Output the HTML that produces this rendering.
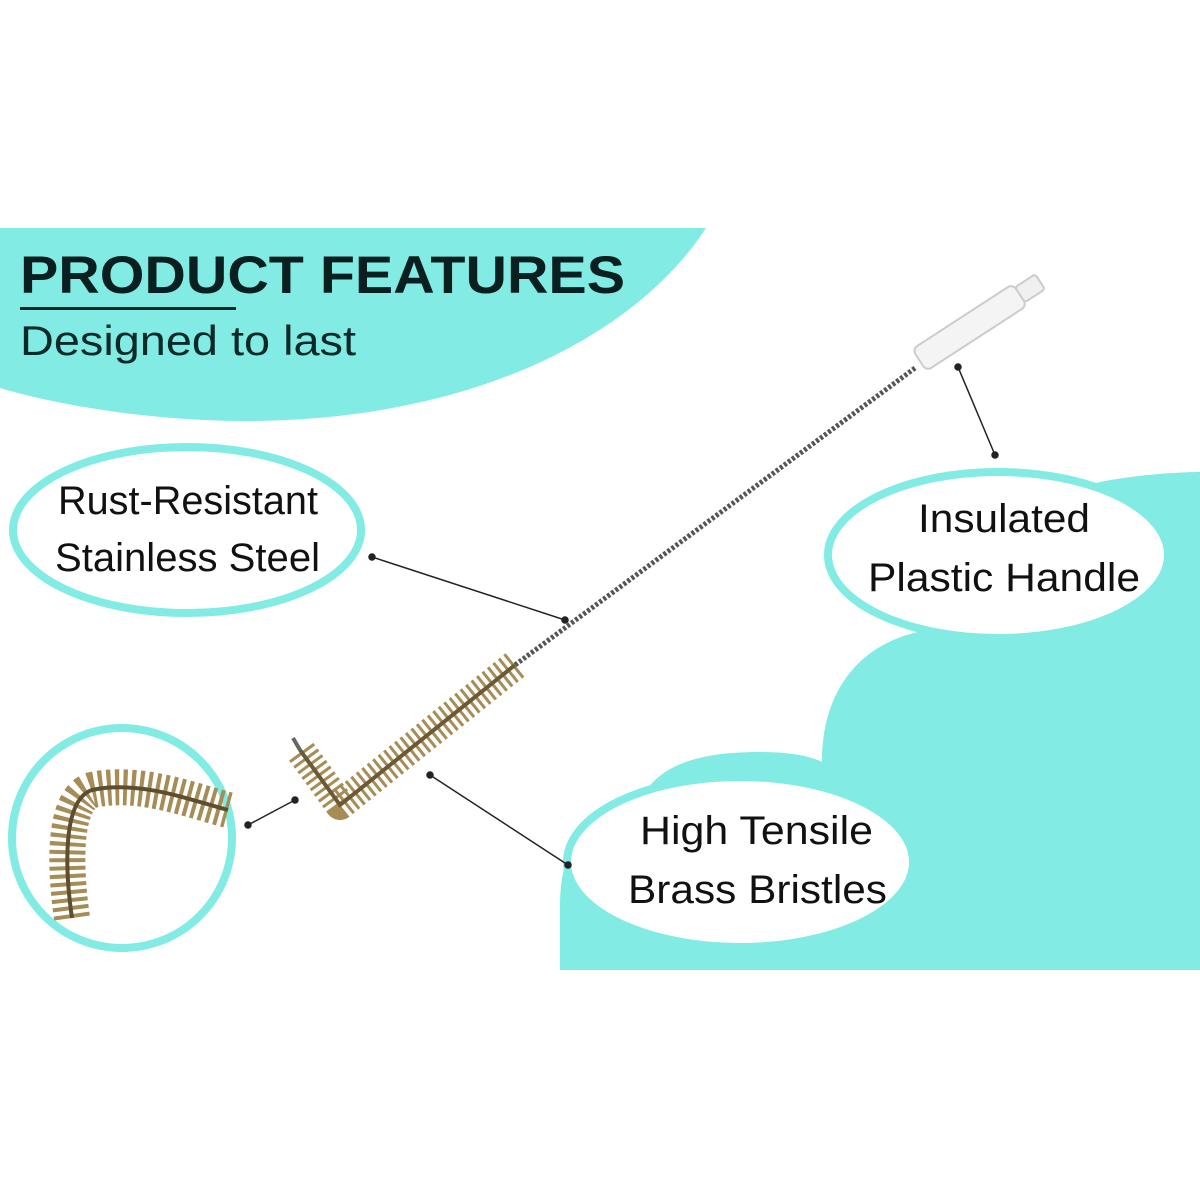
<!DOCTYPE html>
<html><head><meta charset="utf-8"><style>
html,body{margin:0;padding:0;background:#fff;}
svg{display:block;}
text{font-family:"Liberation Sans",sans-serif;}
</style></head><body>
<svg width="1200" height="1200" viewBox="0 0 1200 1200" xmlns="http://www.w3.org/2000/svg">
<rect width="1200" height="1200" fill="#fff"/>
<path d="M0,228 H706 C640,330 480,422 240,421 C130,420 40,400 0,388 Z" fill="#82ebe3"/>
<path d="M560,970 L560,905 C560,840 595,800 645,792 C665,762 705,752 760,752 C790,752 810,756 822,762 C822,690 860,645 918,632 C960,560 1030,500 1100,482 C1150,472 1200,472 1200,472 L1200,970 Z" fill="#82ebe3"/>

<text x="20" y="293" font-size="53" font-weight="bold" fill="#0a1f1f" textLength="605" lengthAdjust="spacingAndGlyphs">PRODUCT FEATURES</text>
<rect x="20" y="307" width="216" height="3" fill="#0a2a2a"/>
<text x="20" y="355" font-size="42" fill="#0a2a2a" textLength="336" lengthAdjust="spacingAndGlyphs">Designed to last</text>

<ellipse cx="187" cy="530" rx="174" ry="83" fill="#fff" stroke="#82ebe3" stroke-width="8"/>
<ellipse cx="998" cy="555" rx="170" ry="83" fill="#fff" stroke="#82ebe3" stroke-width="8"/>
<ellipse cx="740" cy="862" rx="173" ry="85" fill="#fff" stroke="#82ebe3" stroke-width="8"/>
<circle cx="122" cy="838" r="110" fill="#fff" stroke="#82ebe3" stroke-width="8"/>

<g font-size="40" fill="#111">
<text x="58" y="514" textLength="260" lengthAdjust="spacingAndGlyphs">Rust-Resistant</text>
<text x="55" y="571" textLength="265" lengthAdjust="spacingAndGlyphs">Stainless Steel</text>
<text x="918" y="532" textLength="172" lengthAdjust="spacingAndGlyphs">Insulated</text>
<text x="868" y="591" textLength="272" lengthAdjust="spacingAndGlyphs">Plastic Handle</text>
<text x="640" y="844" textLength="233" lengthAdjust="spacingAndGlyphs">High Tensile</text>
<text x="628" y="903" textLength="259" lengthAdjust="spacingAndGlyphs">Brass Bristles</text>
</g>

<line x1="915" y1="368" x2="515" y2="665" stroke="#555" stroke-width="5" stroke-dasharray="3 2"/>
<g transform="translate(978,322) rotate(-33)">
<rect x="-70" y="-13" width="120" height="26" rx="6" fill="#f4f4f4" stroke="#ccc" stroke-width="2"/>
<rect x="50" y="-9" width="24" height="18" rx="3" fill="#f0f0f0" stroke="#ccc" stroke-width="2"/>
</g>
<path d="M515,665 L340,805 L300,750" fill="none" stroke="#a68c55" stroke-width="30" stroke-dasharray="3 4" stroke-linejoin="round"/>
<path d="M515,665 L340,805 L300,750" fill="none" stroke="#6b5a35" stroke-width="4"/>
<path d="M300,750 L293,738" stroke="#666" stroke-width="4"/>

<path d="M72,918 C65,870 62,800 92,790 C140,780 190,800 228,810" fill="none" stroke="#a68c55" stroke-width="36" stroke-dasharray="4 4"/>
<path d="M72,918 C65,870 62,800 92,790 C140,780 190,800 228,810" fill="none" stroke="#5e4e2e" stroke-width="4"/>

<g stroke="#222" stroke-width="1.5" fill="#222">
<line x1="372" y1="557" x2="565" y2="620"/><circle cx="372" cy="557" r="3"/><circle cx="565" cy="620" r="3"/>
<line x1="958" y1="367" x2="995" y2="455"/><circle cx="958" cy="367" r="3"/><circle cx="995" cy="455" r="3"/>
<line x1="430" y1="775" x2="568" y2="865"/><circle cx="430" cy="775" r="3"/><circle cx="568" cy="865" r="3"/>
<line x1="248" y1="825" x2="295" y2="800"/><circle cx="248" cy="825" r="3"/><circle cx="295" cy="800" r="3"/>
</g>
</svg>
</body></html>
